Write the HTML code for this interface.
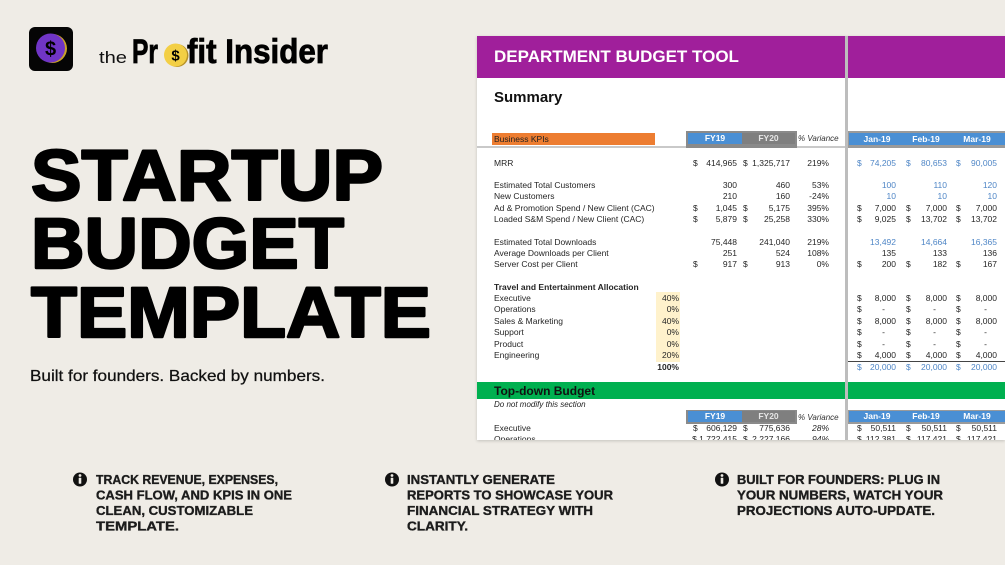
<!DOCTYPE html>
<html><head><meta charset="utf-8">
<style>
*{margin:0;padding:0;box-sizing:border-box}
html,body{width:1005px;height:565px;overflow:hidden}
body{background:#EFECE6;position:relative;font-family:"Liberation Sans",sans-serif}
svg.main{position:absolute;left:0;top:0}
.s{position:absolute;left:477px;top:36px;width:528px;height:404px;background:#fff;overflow:hidden;box-shadow:0 1px 3px rgba(0,0,0,.18)}
.abs{position:absolute}
.row{position:absolute;left:0;width:528px;height:11px;font:8.5px/11px "Liberation Sans",sans-serif;color:#262626;white-space:nowrap}
.row span{position:absolute;top:0}
.l{left:17px}
.d1{left:216px}.v1{right:268px}.d2{left:266px}.v2{right:215px}.pv{right:176px}
.dj{left:380px}.vj{right:109px}.df{left:429px}.vf{right:58px}.dm{left:479px}.vm{right:8px}
.xj{right:120px}.xf{right:69px}.xm{right:18px}
.ap{right:326px}
.b{color:#4f86c6}
.hd{position:absolute;font:bold 8.5px/11px "Liberation Sans",sans-serif;color:#fff;text-align:center}
</style></head><body>

<svg class="main" width="1005" height="565" viewBox="0 0 1005 565" xmlns="http://www.w3.org/2000/svg">
  <!-- logo icon -->
  <rect x="29" y="27" width="44" height="44" rx="6" fill="#050505"/>
  <circle cx="52.5" cy="48.5" r="14.5" fill="#C9A227"/>
  <circle cx="50.5" cy="48" r="14.5" fill="#7035C6"/>
  <text x="50.5" y="55.5" font-family="Liberation Sans" font-size="20" font-weight="bold" text-anchor="middle" fill="#000">$</text>
  <!-- wordmark -->
  <text x="99" y="63" font-family="Liberation Sans" font-size="17" fill="#111" textLength="28" lengthAdjust="spacingAndGlyphs">the</text>
  <text x="132" y="63" font-family="Liberation Sans" font-size="34" font-weight="900" fill="#000" stroke="#000" stroke-width="0.8" textLength="26" lengthAdjust="spacingAndGlyphs">Pr</text>
  <circle cx="177" cy="55.5" r="11.5" fill="#B8932A"/>
  <circle cx="175.5" cy="55" r="11.5" fill="#F3CF45"/>
  <text x="175.5" y="60.5" font-family="Liberation Sans" font-size="15" font-weight="bold" text-anchor="middle" fill="#000">$</text>
  <text x="187" y="63" font-family="Liberation Sans" font-size="34" font-weight="900" fill="#000" stroke="#000" stroke-width="0.8" textLength="141" lengthAdjust="spacingAndGlyphs">fit Insider</text>

  <!-- title -->
  <g font-family="Liberation Sans" font-size="71" font-weight="bold" fill="#000" stroke="#000" stroke-width="2.4" stroke-linejoin="round">
    <text x="31" y="200" textLength="352" lengthAdjust="spacingAndGlyphs">STARTUP</text>
    <text x="31" y="268" textLength="313" lengthAdjust="spacingAndGlyphs">BUDGET</text>
    <text x="31" y="337" textLength="400" lengthAdjust="spacingAndGlyphs">TEMPLATE</text>
  </g>
  <text x="30" y="381" font-family="Liberation Sans" font-size="16" fill="#111" stroke="#111" stroke-width="0.25" textLength="295" lengthAdjust="spacingAndGlyphs">Built for founders. Backed by numbers.</text>

  <!-- bullets -->
  <g fill="#111">
    <circle cx="80" cy="479.5" r="7"/>
    <circle cx="392" cy="479.5" r="7"/>
    <circle cx="722" cy="479.5" r="7"/>
  </g>
  <g fill="#EFECE6">
    <circle cx="80" cy="475.5" r="1.4"/><rect x="78.7" y="477.8" width="2.6" height="6" rx="0.5"/>
    <circle cx="392" cy="475.5" r="1.4"/><rect x="390.7" y="477.8" width="2.6" height="6" rx="0.5"/>
    <circle cx="722" cy="475.5" r="1.4"/><rect x="720.7" y="477.8" width="2.6" height="6" rx="0.5"/>
  </g>
  <g font-family="Liberation Sans" font-size="13" font-weight="bold" fill="#1c1c1c" stroke="#1c1c1c" stroke-width="0.35">
    <text x="96" y="484" textLength="182" lengthAdjust="spacingAndGlyphs">TRACK REVENUE, EXPENSES,</text>
    <text x="96" y="499.5" textLength="196" lengthAdjust="spacingAndGlyphs">CASH FLOW, AND KPIS IN ONE</text>
    <text x="96" y="515" textLength="157" lengthAdjust="spacingAndGlyphs">CLEAN, CUSTOMIZABLE</text>
    <text x="96" y="530.5" textLength="83" lengthAdjust="spacingAndGlyphs">TEMPLATE.</text>

    <text x="407" y="484" textLength="148" lengthAdjust="spacingAndGlyphs">INSTANTLY GENERATE</text>
    <text x="407" y="499.5" textLength="206" lengthAdjust="spacingAndGlyphs">REPORTS TO SHOWCASE YOUR</text>
    <text x="407" y="515" textLength="186" lengthAdjust="spacingAndGlyphs">FINANCIAL STRATEGY WITH</text>
    <text x="407" y="530.5" textLength="61" lengthAdjust="spacingAndGlyphs">CLARITY.</text>

    <text x="737" y="484" textLength="203" lengthAdjust="spacingAndGlyphs">BUILT FOR FOUNDERS: PLUG IN</text>
    <text x="737" y="499.5" textLength="206" lengthAdjust="spacingAndGlyphs">YOUR NUMBERS, WATCH YOUR</text>
    <text x="737" y="515" textLength="198" lengthAdjust="spacingAndGlyphs">PROJECTIONS AUTO-UPDATE.</text>
  </g>
</svg>

<div class="s">
  <!-- purple header -->
  <div class="abs" style="left:0;top:0;width:528px;height:42px;background:#A01F9B"></div>
  <div class="abs" style="left:17px;top:11px;font:bold 17px/20px 'Liberation Sans',sans-serif;color:#fff;white-space:nowrap">DEPARTMENT BUDGET TOOL</div>
  <div class="abs" style="left:17px;top:53px;font:bold 15px/18px 'Liberation Sans',sans-serif;color:#111">Summary</div>

  <!-- KPI header -->
  <div class="abs" style="left:15px;top:97px;width:163px;height:12px;background:#ED7D31;font:8.5px/12px 'Liberation Sans',sans-serif;color:#222;padding-left:2px">Business KPIs</div>
  <div class="abs" style="left:0;top:110px;width:528px;height:2px;background:#c9c9c9"></div>
  <div class="abs" style="left:209px;top:95px;width:111px;height:17px;background:#8a8a8a"></div>
  <div class="abs" style="left:211px;top:97px;width:54px;height:11px;background:#4a8fd4"></div>
  <div class="abs" style="left:265px;top:97px;width:53px;height:11px;background:#7f7f7f"></div>
  <div class="hd" style="left:211px;top:97px;width:54px">FY19</div>
  <div class="hd" style="left:265px;top:97px;width:53px;color:#e6e6e6">FY20</div>
  <div class="abs" style="left:321px;top:97px;font:italic 8px/11px 'Liberation Sans',sans-serif;color:#333;white-space:nowrap">% Variance</div>
  <div class="abs" style="left:370px;top:95px;width:158px;height:17px;background:#9a9a9a"></div>
  <div class="abs" style="left:372px;top:97px;width:156px;height:12px;background:#4a8fd4"></div>
  <div class="hd" style="left:380px;top:97.5px;width:40px">Jan-19</div>
  <div class="hd" style="left:429px;top:97.5px;width:40px">Feb-19</div>
  <div class="hd" style="left:480px;top:97.5px;width:40px">Mar-19</div>

  <!-- allocation highlight -->
  <div class="abs" style="left:179px;top:256px;width:24px;height:70px;background:#FFF2CC"></div>
  <div class="abs" style="left:368px;top:324.5px;width:160px;height:1px;background:#444"></div>

  <div class="row" style="top:121.5px"><span class="l">MRR</span><span class="d1">$</span><span class="v1">414,965</span><span class="d2">$</span><span class="v2">1,325,717</span><span class="pv">219%</span><span class="dj b">$</span><span class="vj b">74,205</span><span class="df b">$</span><span class="vf b">80,653</span><span class="dm b">$</span><span class="vm b">90,005</span></div>

  <div class="row" style="top:143.5px"><span class="l">Estimated Total Customers</span><span class="v1">300</span><span class="v2">460</span><span class="pv">53%</span><span class="vj b">100</span><span class="vf b">110</span><span class="vm b">120</span></div>
  <div class="row" style="top:155px"><span class="l">New Customers</span><span class="v1">210</span><span class="v2">160</span><span class="pv">-24%</span><span class="vj b">10</span><span class="vf b">10</span><span class="vm b">10</span></div>
  <div class="row" style="top:166.5px"><span class="l">Ad &amp; Promotion Spend / New Client (CAC)</span><span class="d1">$</span><span class="v1">1,045</span><span class="d2">$</span><span class="v2">5,175</span><span class="pv">395%</span><span class="dj">$</span><span class="vj">7,000</span><span class="df">$</span><span class="vf">7,000</span><span class="dm">$</span><span class="vm">7,000</span></div>
  <div class="row" style="top:178px"><span class="l">Loaded S&amp;M Spend / New Client (CAC)</span><span class="d1">$</span><span class="v1">5,879</span><span class="d2">$</span><span class="v2">25,258</span><span class="pv">330%</span><span class="dj">$</span><span class="vj">9,025</span><span class="df">$</span><span class="vf">13,702</span><span class="dm">$</span><span class="vm">13,702</span></div>

  <div class="row" style="top:200.5px"><span class="l">Estimated Total Downloads</span><span class="v1">75,448</span><span class="v2">241,040</span><span class="pv">219%</span><span class="vj b">13,492</span><span class="vf b">14,664</span><span class="vm b">16,365</span></div>
  <div class="row" style="top:211.5px"><span class="l">Average Downloads per Client</span><span class="v1">251</span><span class="v2">524</span><span class="pv">108%</span><span class="vj">135</span><span class="vf">133</span><span class="vm">136</span></div>
  <div class="row" style="top:223px"><span class="l">Server Cost per Client</span><span class="d1">$</span><span class="v1">917</span><span class="d2">$</span><span class="v2">913</span><span class="pv">0%</span><span class="dj">$</span><span class="vj">200</span><span class="df">$</span><span class="vf">182</span><span class="dm">$</span><span class="vm">167</span></div>

  <div class="row" style="top:245.5px"><span class="l" style="font-weight:bold">Travel and Entertainment Allocation</span></div>
  <div class="row" style="top:256.5px"><span class="l">Executive</span><span class="ap">40%</span><span class="dj">$</span><span class="vj">8,000</span><span class="df">$</span><span class="vf">8,000</span><span class="dm">$</span><span class="vm">8,000</span></div>
  <div class="row" style="top:268px"><span class="l">Operations</span><span class="ap">0%</span><span class="dj">$</span><span class="xj">-</span><span class="df">$</span><span class="xf">-</span><span class="dm">$</span><span class="xm">-</span></div>
  <div class="row" style="top:279.5px"><span class="l">Sales &amp; Marketing</span><span class="ap">40%</span><span class="dj">$</span><span class="vj">8,000</span><span class="df">$</span><span class="vf">8,000</span><span class="dm">$</span><span class="vm">8,000</span></div>
  <div class="row" style="top:291px"><span class="l">Support</span><span class="ap">0%</span><span class="dj">$</span><span class="xj">-</span><span class="df">$</span><span class="xf">-</span><span class="dm">$</span><span class="xm">-</span></div>
  <div class="row" style="top:302.5px"><span class="l">Product</span><span class="ap">0%</span><span class="dj">$</span><span class="xj">-</span><span class="df">$</span><span class="xf">-</span><span class="dm">$</span><span class="xm">-</span></div>
  <div class="row" style="top:313.5px"><span class="l">Engineering</span><span class="ap">20%</span><span class="dj">$</span><span class="vj">4,000</span><span class="df">$</span><span class="vf">4,000</span><span class="dm">$</span><span class="vm">4,000</span></div>
  <div class="row" style="top:325.5px"><span class="ap" style="font-weight:bold">100%</span><span class="dj b">$</span><span class="vj b">20,000</span><span class="df b">$</span><span class="vf b">20,000</span><span class="dm b">$</span><span class="vm b">20,000</span></div>

  <!-- Top-down budget -->
  <div class="abs" style="left:0;top:346px;width:528px;height:17px;background:#00B050"></div>
  <div class="abs" style="left:17px;top:348px;font:bold 12px/14px 'Liberation Sans',sans-serif;color:#111;white-space:nowrap">Top-down Budget</div>
  <div class="abs" style="left:17px;top:363px;font:italic 8px/11px 'Liberation Sans',sans-serif;color:#222;white-space:nowrap">Do not modify this section</div>

  <div class="abs" style="left:209px;top:374px;width:111px;height:14px;background:#8a8a8a"></div>
  <div class="abs" style="left:211px;top:375px;width:54px;height:11px;background:#4a8fd4"></div>
  <div class="abs" style="left:265px;top:375px;width:53px;height:11px;background:#7f7f7f"></div>
  <div class="hd" style="left:211px;top:375px;width:54px">FY19</div>
  <div class="hd" style="left:265px;top:375px;width:53px;color:#e6e6e6">FY20</div>
  <div class="abs" style="left:321px;top:375.5px;font:italic 8px/11px 'Liberation Sans',sans-serif;color:#333;white-space:nowrap">% Variance</div>
  <div class="abs" style="left:370px;top:374px;width:158px;height:14px;background:#9a9a9a"></div>
  <div class="abs" style="left:372px;top:375px;width:156px;height:11px;background:#4a8fd4"></div>
  <div class="hd" style="left:380px;top:375px;width:40px">Jan-19</div>
  <div class="hd" style="left:429px;top:375px;width:40px">Feb-19</div>
  <div class="hd" style="left:480px;top:375px;width:40px">Mar-19</div>

  <div class="row" style="top:387px"><span class="l">Executive</span><span class="d1">$</span><span class="v1">606,129</span><span class="d2">$</span><span class="v2">775,636</span><span class="pv" style="font-style:italic">28%</span><span class="dj">$</span><span class="vj">50,511</span><span class="df">$</span><span class="vf">50,511</span><span class="dm">$</span><span class="vm">50,511</span></div>
  <div class="row" style="top:398px"><span class="l">Operations</span><span class="v1">$ 1,722,415</span><span class="d2">$</span><span class="v2">2,227,166</span><span class="pv" style="font-style:italic">94%</span><span class="dj">$</span><span class="vj">112,381</span><span class="df">$</span><span class="vf">117,421</span><span class="dm">$</span><span class="vm">117,421</span></div>

  <!-- vertical divider -->
  <div class="abs" style="left:368px;top:0;width:3px;height:404px;background:#bdbdbd"></div>
</div>
</body></html>
